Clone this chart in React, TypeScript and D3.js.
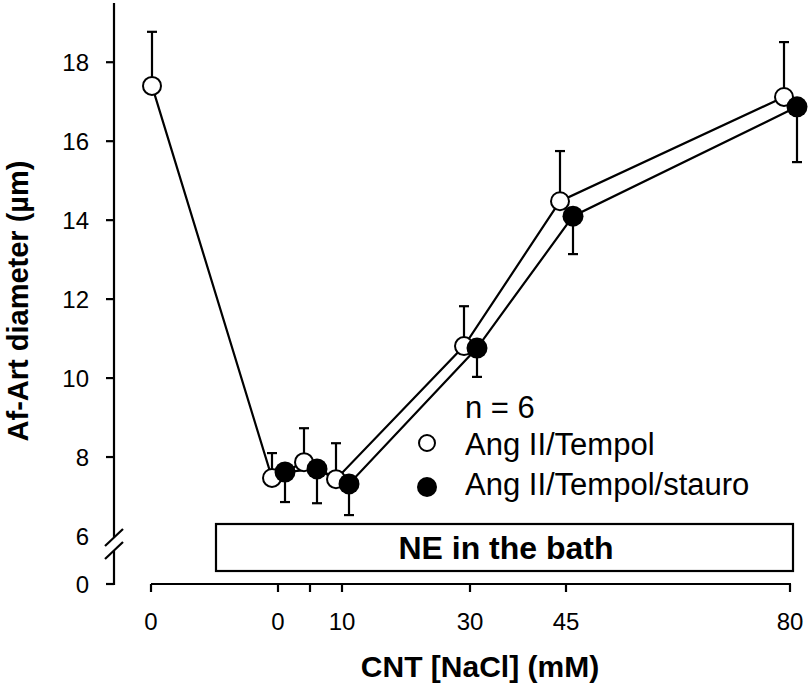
import React from "react";
import * as d3 from "d3";

const concValues = [-1, 0, 5, 10, 30, 45, 80]; // -1 = control before NE
const concLabels = ["0", "0", "", "10", "30", "45", "80"];
const tempolMean = [17.4, 7.47, 7.87, 7.44, 10.81, 14.48, 17.12];
const tempolSE = [1.37, 0.63, 0.86, 0.91, 1.01, 1.27, 1.39];
const stauroConc = [0, 5, 10, 30, 45, 80];
const stauroMean = [7.62, 7.7, 7.32, 10.76, 14.1, 16.87];
const stauroSE = [0.76, 0.87, 0.79, 0.73, 0.96, 1.4];
const yTicks = [0, 6, 8, 10, 12, 14, 16, 18];
const legendLabels = ["n = 6", "Ang II/Tempol", "Ang II/Tempol/stauro"];

const FONT = "'Liberation Sans', Arial, Helvetica, sans-serif";

export default function App() {
  const x = d3.scaleLinear().domain([-1, 0, 80]).range([151, 278, 790]);
  const y = d3.scaleLinear().domain([0, 6, 19.5]).range([584, 536, 3]);
  const axisX = 114;
  const axisY = 584;

  const tempolPts = concValues.map((c, i) => ({
    x: x(c) + (c < 0 ? 1 : -6),
    m: tempolMean[i],
    se: tempolSE[i],
  }));
  const stauroPts = stauroConc.map((c, i) => ({
    x: x(c) + 7,
    m: stauroMean[i],
    se: stauroSE[i],
  }));

  const line = d3
    .line<{ x: number; m: number }>()
    .x((d) => d.x)
    .y((d) => y(d.m));

  const sw = 2.2;

  return (
    <svg
      width={808}
      height={693}
      style={{ position: "absolute", left: 0, top: 0, background: "#fff" }}
      fontFamily={FONT}
    >
      <rect x={0} y={0} width={808} height={693} fill="#fff" />
      {/* Y axis with break */}
      <line x1={axisX} x2={axisX} y1={3} y2={537} stroke="#000" strokeWidth={sw} />
      <line x1={axisX} x2={axisX} y1={551} y2={axisY + 1} stroke="#000" strokeWidth={sw} />
      <line x1={105} x2={123} y1={546} y2={529} stroke="#000" strokeWidth={sw} />
      <line x1={105} x2={123} y1={559} y2={542} stroke="#000" strokeWidth={sw} />
      {yTicks.map((t) => (
        <g key={t}>
          {t !== 6 && (
            <line x1={axisX - 8} x2={axisX} y1={y(t)} y2={y(t)} stroke="#000" strokeWidth={sw} />
          )}
          <text x={89} y={y(t) + 8.5} fontSize={24} textAnchor="end" fill="#000">
            {t}
          </text>
        </g>
      ))}
      <text
        transform={`translate(28,301) rotate(-90)`}
        fontSize={29}
        fontWeight="bold"
        textAnchor="middle"
        fill="#000"
      >
        Af-Art diameter (µm)
      </text>

      {/* X axis */}
      <line x1={x(-1)} x2={x(80) + 1} y1={axisY} y2={axisY} stroke="#000" strokeWidth={sw} />
      {concValues.map((c, i) => (
        <g key={i}>
          <line x1={x(c)} x2={x(c)} y1={axisY} y2={axisY + 8} stroke="#000" strokeWidth={sw} />
          <text x={x(c)} y={630} fontSize={24} textAnchor="middle" fill="#000">
            {concLabels[i]}
          </text>
        </g>
      ))}
      <text x={480} y={677} fontSize={30} fontWeight="bold" textAnchor="middle" fill="#000">
        CNT [NaCl] (mM)
      </text>

      {/* NE box */}
      <rect x={216} y={524} width={577} height={47} fill="#fff" stroke="#000" strokeWidth={sw} />
      <text x={506} y={559} fontSize={32} fontWeight="bold" textAnchor="middle" fill="#000">
        NE in the bath
      </text>

      {/* lines */}
      <path d={line(tempolPts) || ""} fill="none" stroke="#000" strokeWidth={sw} />
      <path d={line(stauroPts) || ""} fill="none" stroke="#000" strokeWidth={sw} />

      {/* error bars */}
      {tempolPts.map((p, i) => (
        <g key={"te" + i}>
          <line x1={p.x} x2={p.x} y1={y(p.m)} y2={y(p.m + p.se)} stroke="#000" strokeWidth={sw} />
          <line x1={p.x - 5} x2={p.x + 5} y1={y(p.m + p.se)} y2={y(p.m + p.se)} stroke="#000" strokeWidth={sw} />
        </g>
      ))}
      {stauroPts.map((p, i) => (
        <g key={"se" + i}>
          <line x1={p.x} x2={p.x} y1={y(p.m)} y2={y(p.m - p.se)} stroke="#000" strokeWidth={sw} />
          <line x1={p.x - 5} x2={p.x + 5} y1={y(p.m - p.se)} y2={y(p.m - p.se)} stroke="#000" strokeWidth={sw} />
        </g>
      ))}

      {/* markers */}
      {tempolPts.map((p, i) => (
        <circle key={"tc" + i} cx={p.x} cy={y(p.m)} r={9} fill="#fff" stroke="#000" strokeWidth={2} />
      ))}
      {stauroPts.map((p, i) => (
        <circle key={"sc" + i} cx={p.x} cy={y(p.m)} r={10.5} fill="#000" />
      ))}

      {/* legend */}
      <text x={465} y={418} fontSize={31} fill="#000">
        {legendLabels[0]}
      </text>
      <circle cx={427} cy={443} r={8} fill="#fff" stroke="#000" strokeWidth={2} />
      <text x={465} y={455} fontSize={31} fill="#000">
        {legendLabels[1]}
      </text>
      <circle cx={427} cy={487} r={10} fill="#000" />
      <text x={465} y={495} fontSize={31} fill="#000">
        {legendLabels[2]}
      </text>
    </svg>
  );
}
